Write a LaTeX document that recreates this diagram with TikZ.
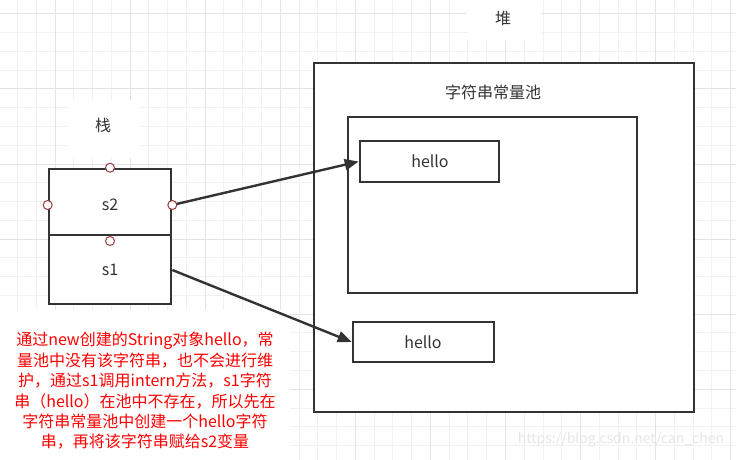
\documentclass[tikz,border=0pt]{standalone}
\usepackage{fontspec}
\setmainfont{Noto Sans CJK SC}
\usetikzlibrary{arrows.meta}
\definecolor{ink}{HTML}{333333}
\definecolor{gridminor}{HTML}{F1F1F1}
\definecolor{gridmajor}{HTML}{E4E4E4}
\definecolor{pt}{HTML}{9A3B3B}
\definecolor{wm}{HTML}{E6E6E6}
\tikzset{
  box/.style={draw=ink, line width=2.6pt, fill=white, inner sep=0pt, text=ink, font=\fontsize{16}{20}\selectfont},
  lbl/.style={fill=white, inner sep=0pt, text=ink, font=\fontsize{16}{20}\selectfont},
  txt/.style={inner sep=0pt, text=ink, font=\fontsize{16}{20}\selectfont},
  cpt/.style={circle, draw=pt, fill=white, line width=1pt, minimum size=9pt, inner sep=0pt},
  conn/.style={draw=ink, line width=2.4pt, -{Triangle[length=14pt,width=11pt]}},
  gminor/.style={draw=gridminor, line width=1pt},
  gmajor/.style={draw=gridmajor, line width=1pt}
}
\begin{document}
\begin{tikzpicture}[x=1pt,y=-1pt]
\useasboundingbox (0,0) rectangle (736,460);
\fill[white] (0,0) rectangle (736,460);
% grid
\foreach \i in {0,...,39}{\draw[gminor] ({-1.3+\i*18.77},0) -- ({-1.3+\i*18.77},460);}
\foreach \i in {0,...,24}{\draw[gminor] (0,{13.9+\i*18.77}) -- (736,{13.9+\i*18.77});}
\foreach \i in {0,...,9}{\draw[gmajor] ({55+\i*75.08},0) -- ({55+\i*75.08},460);}
\foreach \i in {0,...,6}{\draw[gmajor] (0,{13.9+\i*75.08}) -- (736,{13.9+\i*75.08});}
% note background
\fill[white] (0,310) rectangle (290,460);
% labels
\fill[white] (467,0) rectangle (541,40);
\node[txt] (heaplbl) at (503,18) {堆};
\fill[white] (67,100) rectangle (141,158);
\node[txt] (stacklbl) at (103,125) {栈};
% heap
\node[box, minimum width=380pt, minimum height=349pt] (heap) at (504,237.5) {};
\node[txt] (pooltitle) at (493,92) {字符串常量池};
\node[box, minimum width=289pt, minimum height=176pt] (pool) at (492.5,205) {};
\node[box, minimum width=139pt, minimum height=41pt] (hello1) at (429.5,161.5) {};
\node[txt] (h1txt) at (430,161) {hello};
\node[box, minimum width=141pt, minimum height=40pt] (hello2) at (423.5,342) {};
\node[txt] (h2txt) at (423,342) {hello};
% stack
\node[box, minimum width=122pt, minimum height=66pt] (s2) at (110,202) {};
\node[box, minimum width=122pt, minimum height=69pt] (s1) at (110,269.5) {};
\node[txt] (s2txt) at (110,205) {s2};
\node[txt] (s1txt) at (110,270) {s1};
\node[cpt] (c1) at (s2.north) {};
\node[cpt] (c2) at (s2.west |- 0,205) {};
\node[cpt] (c3) at (110,241) {};
% connectors
\draw[conn] (s2.east |- 0,205) -- (hello1.west);
\node[cpt] (c4) at (s2.east |- 0,205) {};
\draw[conn] (s1.east |- 0,270) -- (hello2.west);
% note
\node[text=red, align=center, inner sep=0pt, font=\fontsize{16}{20.4}\selectfont] (note) at (145,391)
{通过new创建的String对象hello，常\\量池中没有该字符串，也不会进行维\\护，通过s1调用intern方法，s1字符\\串（hello）在池中不存在，所以先在\\字符串常量池中创建一个hello字符\\串，再将该字符串赋给s2变量};
\node[text=wm, inner sep=0pt, font=\fontsize{14}{16}\selectfont] (mark) at (621,440) {https://blog.csdn.net/can\_chen};
\end{tikzpicture}
\end{document}
